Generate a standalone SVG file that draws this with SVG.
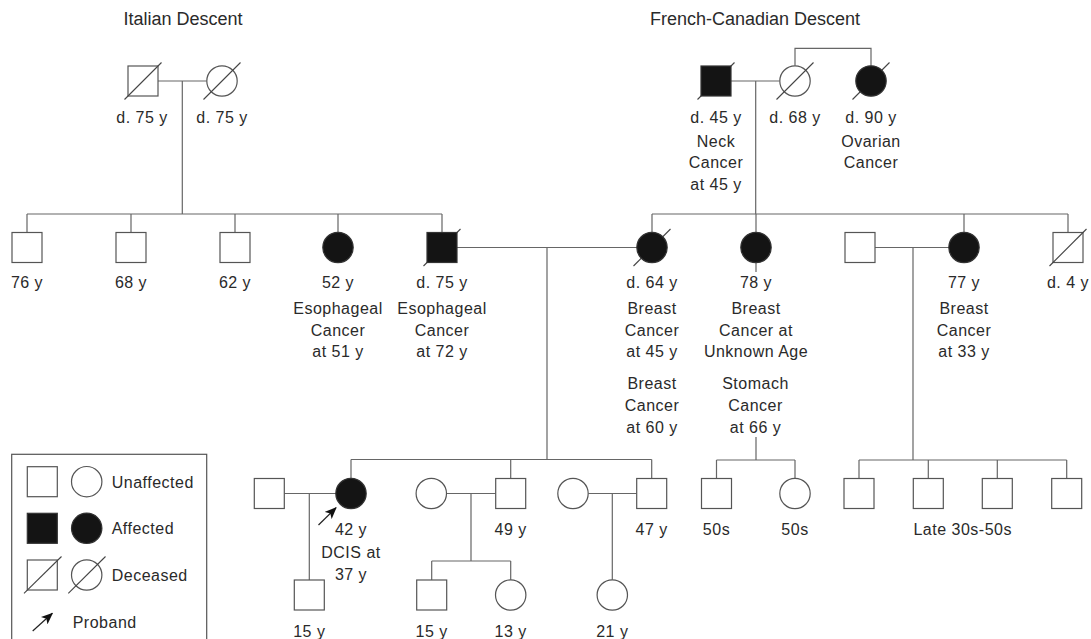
<svg xmlns="http://www.w3.org/2000/svg" width="1091" height="639" viewBox="0 0 1091 639">
<style>
.t{font-family:"Liberation Sans",Arial,Helvetica,sans-serif;font-size:16px;fill:#2a2a2a;text-anchor:middle;letter-spacing:0.5px}
.tl{font-family:"Liberation Sans",Arial,Helvetica,sans-serif;font-size:16px;fill:#2a2a2a;letter-spacing:0.5px}
.h{font-family:"Liberation Sans",Arial,Helvetica,sans-serif;font-size:18px;fill:#2a2a2a;text-anchor:middle}
.u{fill:#fff;stroke:#555;stroke-width:1.2}
.a{fill:#141414;stroke:#333;stroke-width:1.2}
.d{stroke:#444;stroke-width:1.1;fill:none}
.c{stroke:#666;stroke-width:1.2;fill:none}
</style>
<defs>
<marker id="arr" viewBox="0 0 12 10" refX="11" refY="5" markerWidth="12" markerHeight="10" markerUnits="userSpaceOnUse" orient="auto">
<path d="M0,0 L12,5 L0,10 L3,5 Z" fill="#111"/>
</marker>
</defs>
<rect width="1091" height="639" fill="#fff"/>

<text class="h" x="183" y="25">Italian Descent</text>
<text class="h" x="755" y="25">French-Canadian Descent</text>

<g id="connectors" class="c">
<path d="M158,81 H206.7 M182.3,81 V214 M27,214 H442 M27,214 V232.5 M131,214 V232.5 M235,214 V232.5 M338,214 V232.5 M442,214 V232.5"/>
<path d="M731,81 H779.5 M755.7,81 V214 M795,65.7 V48.3 H871 V65.7"/>
<path d="M652,214 H1068 M652,214 V232.5 M756,214 V232.5 M964,214 V232.5 M1068,214 V232.5"/>
<path d="M457,247.5 H637 M547,247.5 V459.5 M351,459.5 H651.7 M351,459.5 V478.5 M510.7,459.5 V478.5 M651.7,459.5 V478.5"/>
<path d="M756,262.5 V272 M756,437 V460 M716.5,460 H795 M716.5,460 V478.5 M795,460 V478.5"/>
<path d="M875,247.5 H949 M913,247.5 V460 M859,460 H1066.7 M859,460 V478.5 M928.3,460 V478.5 M997.3,460 V478.5 M1066.7,460 V478.5"/>
<path d="M284.3,493.5 H336 M309.3,493.5 V580"/>
<path d="M446.7,493.5 H495.7 M471,493.5 V561 M431.7,561 H510.7 M431.7,561 V580 M510.7,561 V580"/>
<path d="M588.3,493.5 H636.7 M612.3,493.5 V580"/>
</g>

<!-- Generation I -->
<g id="ital-gf"><rect class="u" x="128" y="66" width="30" height="30"/><line class="d" x1="124.5" y1="99.5" x2="161.5" y2="62.5"/><text class="t" x="142" y="122.7">d. 75 y</text></g>
<g id="ital-gm"><circle class="u" cx="222" cy="81" r="15.2"/><line class="d" x1="203.5" y1="99.5" x2="240.5" y2="62.5"/><text class="t" x="222" y="122.7">d. 75 y</text></g>
<g id="fc-gf"><line class="d" x1="697.5" y1="99.5" x2="734.5" y2="62.5"/><rect class="a" x="701" y="66" width="30" height="30"/><text class="t" x="716" y="122.7">d. 45 y</text><text class="t" x="716" y="146.7">Neck</text><text class="t" x="716" y="168.3">Cancer</text><text class="t" x="716" y="190">at 45 y</text></g>
<g id="fc-gm"><circle class="u" cx="795" cy="81" r="15.2"/><line class="d" x1="776.5" y1="99.5" x2="813.5" y2="62.5"/><text class="t" x="795" y="122.7">d. 68 y</text></g>
<g id="fc-gaunt"><line class="d" x1="852.5" y1="99.5" x2="889.5" y2="62.5"/><circle class="a" cx="871" cy="81" r="15.2"/><text class="t" x="871" y="122.7">d. 90 y</text><text class="t" x="871" y="146.7">Ovarian</text><text class="t" x="871" y="168.3">Cancer</text></g>

<!-- Generation II -->
<g id="uncle1"><rect class="u" x="12" y="232.5" width="30" height="30"/><text class="t" x="27" y="288.3">76 y</text></g>
<g id="uncle2"><rect class="u" x="116" y="232.5" width="30" height="30"/><text class="t" x="131" y="288.3">68 y</text></g>
<g id="uncle3"><rect class="u" x="220" y="232.5" width="30" height="30"/><text class="t" x="235" y="288.3">62 y</text></g>
<g id="aunt-esoph"><circle class="a" cx="338" cy="247.5" r="15.2"/><text class="t" x="338" y="288.3">52 y</text><text class="t" x="338" y="314">Esophageal</text><text class="t" x="338" y="335.7">Cancer</text><text class="t" x="338" y="356.7">at 51 y</text></g>
<g id="father"><line class="d" x1="423.5" y1="266" x2="460.5" y2="229"/><rect class="a" x="427" y="232.5" width="30" height="30"/><text class="t" x="442" y="288.3">d. 75 y</text><text class="t" x="442" y="314">Esophageal</text><text class="t" x="442" y="335.7">Cancer</text><text class="t" x="442" y="356.7">at 72 y</text></g>
<g id="mother"><line class="d" x1="633.5" y1="266" x2="670.5" y2="229"/><circle class="a" cx="652" cy="247.5" r="15.2"/><text class="t" x="652" y="288.3">d. 64 y</text><text class="t" x="652" y="314">Breast</text><text class="t" x="652" y="335.7">Cancer</text><text class="t" x="652" y="356.7">at 45 y</text><text class="t" x="652" y="389">Breast</text><text class="t" x="652" y="410.7">Cancer</text><text class="t" x="652" y="433">at 60 y</text></g>
<g id="aunt-78"><circle class="a" cx="756" cy="247.5" r="15.2"/><text class="t" x="756" y="288.3">78 y</text><text class="t" x="756" y="314">Breast</text><text class="t" x="756" y="335.7">Cancer at</text><text class="t" x="756" y="356.7">Unknown Age</text><text class="t" x="755.5" y="389">Stomach</text><text class="t" x="755.5" y="410.7">Cancer</text><text class="t" x="755.5" y="432.7">at 66 y</text></g>
<g id="uncle-inlaw"><rect class="u" x="845" y="232.5" width="30" height="30"/></g>
<g id="aunt-77"><circle class="a" cx="964" cy="247.5" r="15.2"/><text class="t" x="964" y="288.3">77 y</text><text class="t" x="964" y="314">Breast</text><text class="t" x="964" y="335.7">Cancer</text><text class="t" x="964" y="356.7">at 33 y</text></g>
<g id="uncle-d4"><rect class="u" x="1053" y="232.5" width="30" height="30"/><line class="d" x1="1049.5" y1="266" x2="1086.5" y2="229"/><text class="t" x="1068" y="288.3">d. 4 y</text></g>

<!-- Generation III -->
<g id="husband"><rect class="u" x="254.3" y="478.5" width="30" height="30"/></g>
<g id="proband"><circle class="a" cx="351" cy="493.5" r="15.2"/><line x1="318.5" y1="525" x2="336" y2="507.8" stroke="#222" stroke-width="1.2" marker-end="url(#arr)"/><text class="t" x="351" y="535">42 y</text><text class="t" x="351" y="558">DCIS at</text><text class="t" x="351" y="580">37 y</text></g>
<g id="sil1"><circle class="u" cx="431.3" cy="493.5" r="15.2"/></g>
<g id="brother49"><rect class="u" x="495.7" y="478.5" width="30" height="30"/><text class="t" x="510.7" y="535">49 y</text></g>
<g id="sil2"><circle class="u" cx="573" cy="493.5" r="15.2"/></g>
<g id="brother47"><rect class="u" x="636.7" y="478.5" width="30" height="30"/><text class="t" x="651.7" y="535">47 y</text></g>
<g id="cousin1"><rect class="u" x="701.5" y="478.5" width="30" height="30"/><text class="t" x="716.5" y="535">50s</text></g>
<g id="cousin2"><circle class="u" cx="795" cy="493.5" r="15.2"/><text class="t" x="795" y="535">50s</text></g>
<g id="cousins-right"><rect class="u" x="844" y="478.5" width="30" height="30"/><rect class="u" x="913.3" y="478.5" width="30" height="30"/><rect class="u" x="982.3" y="478.5" width="30" height="30"/><rect class="u" x="1051.7" y="478.5" width="30" height="30"/><text class="t" x="962.7" y="535">Late 30s-50s</text></g>

<!-- Generation IV -->
<g id="son"><rect class="u" x="294.3" y="580" width="30" height="30"/><text class="t" x="309.3" y="636.7">15 y</text></g>
<g id="nephew"><rect class="u" x="416.7" y="580" width="30" height="30"/><text class="t" x="431.7" y="636.7">15 y</text></g>
<g id="niece13"><circle class="u" cx="510.7" cy="595" r="15.2"/><text class="t" x="510.7" y="636.7">13 y</text></g>
<g id="niece21"><circle class="u" cx="612.3" cy="595" r="15.2"/><text class="t" x="612.3" y="636.7">21 y</text></g>

<!-- Legend -->
<g id="legend">
<rect x="11.7" y="454.3" width="195" height="200" fill="none" stroke="#555" stroke-width="1.2"/>
<rect class="u" x="27.3" y="466.7" width="30" height="30"/><circle class="u" cx="86.7" cy="481.7" r="15.2"/><text class="tl" x="111.7" y="487.7">Unaffected</text>
<rect class="a" x="27.3" y="513.3" width="30" height="30"/><circle class="a" cx="86.7" cy="528.3" r="15.2"/><text class="tl" x="111.7" y="534.3">Affected</text>
<rect class="u" x="27.3" y="560" width="30" height="30"/><line class="d" x1="24" y1="593.3" x2="61.5" y2="556.5"/><circle class="u" cx="86.7" cy="575" r="15.2"/><line class="d" x1="68.3" y1="593.3" x2="105.5" y2="556.5"/><text class="tl" x="111.7" y="581">Deceased</text>
<line x1="32.7" y1="631" x2="52.3" y2="613.3" stroke="#222" stroke-width="1.2" marker-end="url(#arr)"/><text class="tl" x="72.7" y="627.7">Proband</text>
</g>
</svg>
